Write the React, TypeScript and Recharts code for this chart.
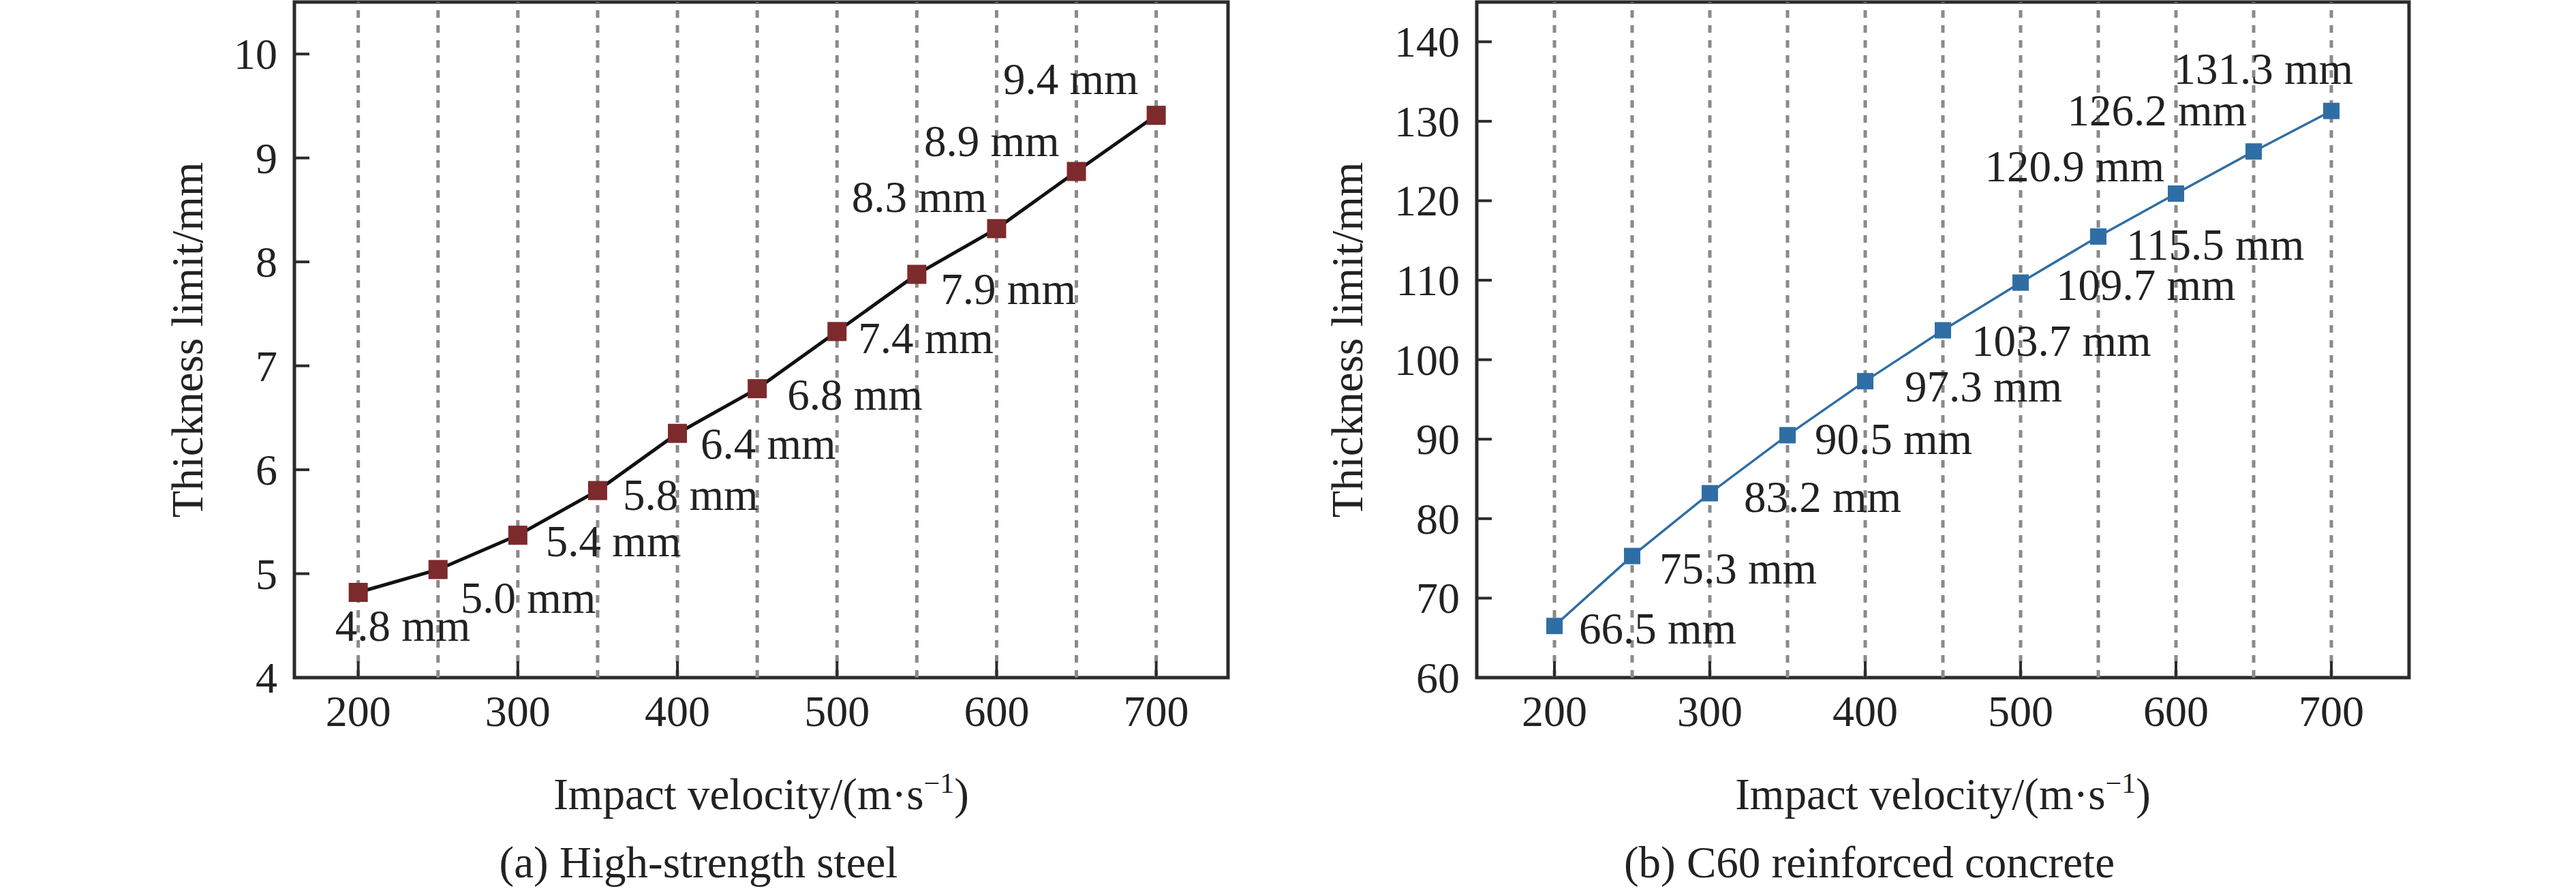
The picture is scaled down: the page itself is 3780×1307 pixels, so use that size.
import React from 'react';
import { LabelList, Line, LineChart, ReferenceArea, ReferenceLine, XAxis, YAxis } from 'recharts';

const FONT = '"Liberation Serif", "Times New Roman", Times, serif';
const INK = '#2b2b2b';
const TXT = { fontFamily: FONT, fill: '#222' };

// shared x categories
const VELOCITY = [200, 250, 300, 350, 400, 450, 500, 550, 600, 650, 700];
const X_TICKS = [200, 300, 400, 500, 600, 700];

// (a) high-strength steel
const STEEL_THICKNESS = [4.82, 5.04, 5.37, 5.8, 6.35, 6.78, 7.33, 7.88, 8.32, 8.87, 9.41];
const STEEL_LABELS = ['4.8 mm', '5.0 mm', '5.4 mm', '5.8 mm', '6.4 mm', '6.8 mm', '7.4 mm', '7.9 mm', '8.3 mm', '8.9 mm', '9.4 mm'];
const STEEL_Y_TICKS = [4, 5, 6, 7, 8, 9, 10];

// (b) C60 reinforced concrete
const CONCRETE_THICKNESS = [66.5, 75.3, 83.2, 90.5, 97.3, 103.7, 109.7, 115.5, 120.9, 126.2, 131.3];
const CONCRETE_LABELS = ['66.5 mm', '75.3 mm', '83.2 mm', '90.5 mm', '97.3 mm', '103.7 mm', '109.7 mm', '115.5 mm', '120.9 mm', '126.2 mm', '131.3 mm'];
const CONCRETE_Y_TICKS = [60, 70, 80, 90, 100, 110, 120, 130, 140];

// label placement relative to each marker: [dx, dy, anchor]
const STEEL_LABEL_POS: [number, number, string][] = [
  [-34, 71, 'start'], [33, 64, 'start'], [41, 31, 'start'], [37, 28, 'start'],
  [34, 37, 'start'], [44, 31, 'start'], [31, 32, 'start'], [35, 44, 'start'],
  [-14, -24, 'end'], [-25, -23, 'end'], [-26, -31, 'end'],
];
const CONCRETE_LABEL_POS: [number, number, string][] = [
  [36, 26, 'start'], [40, 40, 'start'], [50, 27, 'start'], [40, 28, 'start'],
  [58, 30, 'start'], [42, 37, 'start'], [52, 25, 'start'], [41, 34, 'start'],
  [-17, -18, 'end'], [-10, -38, 'end'], [32, -40, 'end'],
];

const TICK_LEN = 22;

function Panel({
  values,
  labels,
  labelPos,
  yTicks,
  yDomain,
  xDomain,
  markerColor,
  lineColor,
  lineWidth,
  markerSize,
  yAxisWidth,
  yLabelGap,
  margin,
}: any) {
  const data = VELOCITY.map((v, i) => ({ v, t: values[i], i }));

  const yTick = ({ x, y, payload }: any) => (
    <g>
      <line x1={x} x2={x + TICK_LEN} y1={y} y2={y} stroke={INK} strokeWidth={4} />
      <text x={x - 25} y={y + 22} textAnchor="end" fontSize={64} style={TXT}>
        {payload.value}
      </text>
    </g>
  );

  const xTick = ({ x, y, payload }: any) => (
    <g>
      <line x1={x} x2={x} y1={y} y2={y - 24} stroke={INK} strokeWidth={4} />
      <text x={x} y={y + 71} textAnchor="middle" fontSize={64} style={TXT}>
        {payload.value}
      </text>
    </g>
  );

  const square = (p: any) => (
    <rect
      key={p.index}
      x={p.cx - markerSize / 2}
      y={p.cy - markerSize / 2}
      width={markerSize}
      height={markerSize}
      fill={markerColor}
    />
  );

  const pointLabel = (p: any) => {
    const i = Number(p.value);
    const [dx, dy, anchor] = labelPos[i];
    return (
      <text x={p.x + dx} y={p.y + dy} textAnchor={anchor} fontSize={65} style={TXT}>
        {labels[i]}
      </text>
    );
  };

  return (
    <LineChart width={1890} height={1307} data={data} margin={margin} style={{ fontFamily: FONT }}>
      <XAxis
        dataKey="v"
        type="number"
        domain={xDomain}
        ticks={X_TICKS}
        allowDataOverflow
        axisLine={false}
        tickLine={false}
        tickSize={0}
        tickMargin={0}
        height={80}
        tick={xTick}
        label={{
          content: ({ viewBox }: any) => (
            <text
              x={viewBox.x + viewBox.width / 2}
              y={viewBox.y + 193}
              textAnchor="middle"
              fontSize={65}
              style={TXT}
            >
              Impact velocity/(m·s
              <tspan dy={-24} fontSize={42}>−1</tspan>
              <tspan dy={24}>)</tspan>
            </text>
          ),
        }}
      />
      <YAxis
        type="number"
        domain={yDomain}
        ticks={yTicks}
        allowDataOverflow
        axisLine={false}
        tickLine={false}
        tickSize={0}
        tickMargin={0}
        width={yAxisWidth}
        tick={yTick}
        label={{
          content: ({ viewBox }: any) => {
            const cx = viewBox.x + viewBox.width - yLabelGap;
            const cy = viewBox.y + viewBox.height / 2;
            return (
              <text
                x={cx}
                y={cy}
                dy="0.33em"
                transform={`rotate(-90 ${cx} ${cy})`}
                textAnchor="middle"
                fontSize={65}
                style={TXT}
              >
                Thickness limit/mm
              </text>
            );
          },
        }}
      />
      {VELOCITY.map((v) => (
        <ReferenceLine key={v} x={v} stroke="#8a8a8a" strokeWidth={5} strokeDasharray="11 11" />
      ))}
      <ReferenceArea
        x1={xDomain[0]}
        x2={xDomain[1]}
        y1={yDomain[0]}
        y2={yDomain[1]}
        fill="none"
        fillOpacity={0}
        stroke={INK}
        strokeWidth={5}
        ifOverflow="visible"
      />
      <Line
        dataKey="t"
        stroke={lineColor}
        strokeWidth={lineWidth}
        dot={square}
        activeDot={false}
        isAnimationActive={false}
      >
        <LabelList dataKey="i" content={pointLabel} />
      </Line>
    </LineChart>
  );
}

export default function App() {
  return (
    <div style={{ position: 'relative', width: 3780, height: 1307, background: '#fff', fontFamily: FONT }}>
      <style>{'body{margin:0}'}</style>
      <div style={{ position: 'absolute', left: 0, top: 0 }}>
        <Panel
          values={STEEL_THICKNESS}
          labels={STEEL_LABELS}
          labelPos={STEEL_LABEL_POS}
          yTicks={STEEL_Y_TICKS}
          yDomain={[4, 10.5]}
          xDomain={[160, 745]}
          markerColor="#7d2a2c"
          lineColor="#111"
          lineWidth={5}
          markerSize={28}
          yAxisWidth={120}
          yLabelGap={156}
          margin={{ top: 3, right: 88, bottom: 233, left: 312 }}
        />
      </div>
      <div style={{ position: 'absolute', left: 1890, top: 0 }}>
        <Panel
          values={CONCRETE_THICKNESS}
          labels={CONCRETE_LABELS}
          labelPos={CONCRETE_LABEL_POS}
          yTicks={CONCRETE_Y_TICKS}
          yDomain={[60, 145]}
          xDomain={[150, 750]}
          markerColor="#2f6ea5"
          lineColor="#2f6ea5"
          lineWidth={3.5}
          markerSize={24}
          yAxisWidth={150}
          yLabelGap={189}
          margin={{ top: 3, right: 245, bottom: 233, left: 127 }}
        />
      </div>
      <svg style={{ position: 'absolute', left: 0, top: 0, pointerEvents: 'none' }} width={3780} height={1307}>
        <text x={1025} y={1287} textAnchor="middle" fontSize={65} style={TXT}>
          (a) High-strength steel
        </text>
        <text x={2743} y={1287} textAnchor="middle" fontSize={65} style={TXT}>
          (b) C60 reinforced concrete
        </text>
      </svg>
    </div>
  );
}
